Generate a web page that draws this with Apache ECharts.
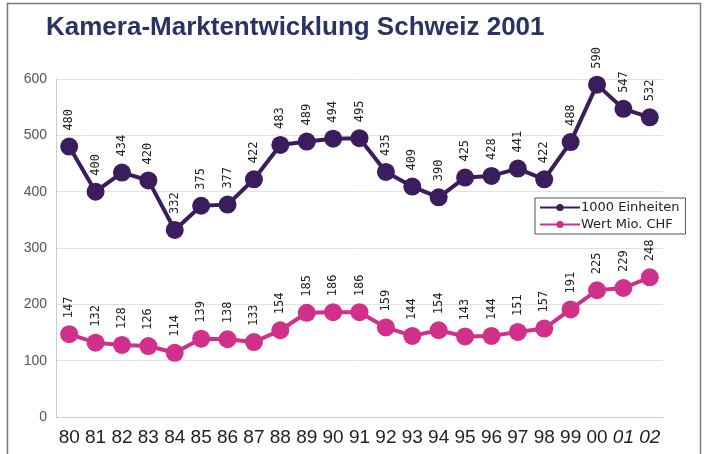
<!DOCTYPE html>
<html>
<head>
<meta charset="utf-8">
<script src="https://cdn.jsdelivr.net/npm/echarts@6/dist/echarts.min.js"></script>
<style>
  html, body { margin: 0; padding: 0; background: #fff; }
  #chart { width: 706px; height: 454px; }
</style>
</head>
<body>
<div id="chart"></div>
<script>
const years = ['80', '81', '82', '83', '84', '85', '86', '87', '88', '89', '90', '91',
  '92', '93', '94', '95', '96', '97', '98', '99', '00', '01', '02'];
const einheiten = [480, 400, 434, 420, 332, 375, 377, 422, 483, 489, 494, 495,
  435, 409, 390, 425, 428, 441, 422, 488, 590, 547, 532];
const wertChf = [147, 132, 128, 126, 114, 139, 138, 133, 154, 185, 186, 186,
  159, 144, 154, 143, 144, 151, 157, 191, 225, 229, 248];
const italicYears = ['01', '02'];

const chart = echarts.init(document.getElementById('chart'));

const pointLabel = {
  show: true,
  position: 'top',
  rotate: 90,
  align: 'left',
  verticalAlign: 'middle',
  distance: 7,
  fontFamily: 'DejaVu Sans Mono',
  fontSize: 12,
  color: '#222'
};

chart.setOption({
  backgroundColor: '#fff',
  animation: false,
  title: {
    text: 'Kamera-Marktentwicklung Schweiz 2001',
    left: 41,
    top: 10,
    textStyle: { fontFamily: 'Liberation Sans', fontWeight: 'bold', fontSize: 26, color: '#2a3462' }
  },
  graphic: [{
    type: 'rect',
    shape: { x: 7.5, y: 3.5, width: 693, height: 460 },
    style: { fill: 'none', stroke: '#777', lineWidth: 1.5 },
    silent: true
  }],
  legend: {
    orient: 'vertical',
    left: 535,
    top: 198,
    itemWidth: 40,
    itemHeight: 9,
    itemGap: 4,
    padding: [3, 6, 3, 4],
    borderColor: '#555',
    borderWidth: 1,
    backgroundColor: '#fff',
    textStyle: { fontFamily: 'DejaVu Sans', fontSize: 13, color: '#222', padding: [0, 0, 0, -4] },
    data: ['1000 Einheiten', 'Wert Mio. CHF']
  },
  grid: { left: 56, right: 43, top: 79, bottom: 37 },
  xAxis: {
    type: 'category',
    data: years,
    boundaryGap: true,
    axisLine: { lineStyle: { color: '#ccc' } },
    axisTick: { lineStyle: { color: '#ccc' }, length: 4 },
    axisLabel: {
      interval: 0,
      margin: 11,
      fontFamily: 'Liberation Sans',
      fontSize: 19,
      color: '#222',
      formatter: v => italicYears.includes(v) ? '{i|' + v + '}' : v,
      rich: { i: { fontStyle: 'italic', fontFamily: 'Liberation Sans', fontSize: 19, color: '#222' } }
    }
  },
  yAxis: {
    type: 'value',
    min: 0,
    max: 600,
    interval: 100,
    axisLine: { show: true, lineStyle: { color: '#ccc' } },
    axisTick: { show: false },
    axisLabel: { margin: 9, fontFamily: 'Liberation Sans', fontSize: 14, color: '#555' },
    splitLine: { lineStyle: { color: '#e2e2e2' } }
  },
  series: [
    {
      name: '1000 Einheiten',
      type: 'line',
      data: einheiten,
      symbol: 'circle',
      symbolSize: 18,
      showSymbol: true,
      showAllSymbol: true,
      lineStyle: { color: '#3b1c5c', width: 4 },
      itemStyle: { color: '#3b1c5c' },
      label: pointLabel
    },
    {
      name: 'Wert Mio. CHF',
      type: 'line',
      data: wertChf,
      symbol: 'circle',
      symbolSize: 18,
      showSymbol: true,
      showAllSymbol: true,
      lineStyle: { color: '#d0308a', width: 4 },
      itemStyle: { color: '#d0308a' },
      label: pointLabel
    }
  ]
});
</script>
</body>
</html>
